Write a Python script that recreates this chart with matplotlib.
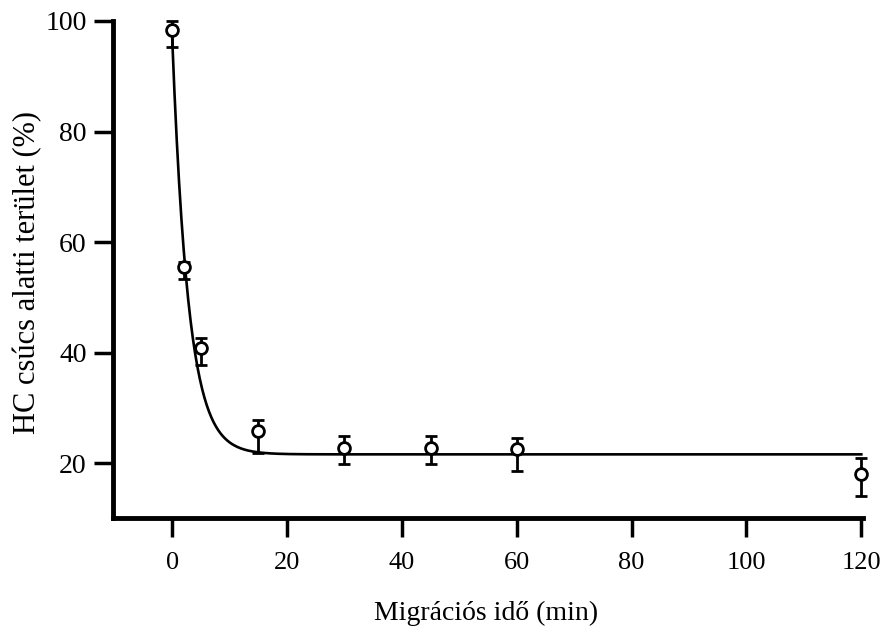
import numpy as np
import matplotlib
matplotlib.use("Agg")
import matplotlib.pyplot as plt

plt.rcParams['font.family'] = ['Liberation Serif', 'DejaVu Serif']

# mért pontok (idő, átlag, hibasáv alsó/felső vége)
time_min = [0, 2, 5, 15, 30, 45, 60, 120]
area_mean = [98.4, 55.5, 40.9, 25.8, 22.8, 22.8, 22.5, 18.1]
area_upper = [99.9, 56.4, 42.7, 27.8, 24.9, 24.9, 24.5, 21.0]
area_lower = [95.3, 53.4, 37.7, 21.9, 19.8, 19.8, 18.6, 14.0]

# illesztett egyfázisú lecsengés paraméterei
fit_y0 = 97.0
fit_plateau = 21.6
fit_k = 0.355

mean = np.array(area_mean)
err = [mean - np.array(area_lower), np.array(area_upper) - mean]

fig = plt.figure(figsize=(8.83, 6.29), dpi=100)
ax = fig.add_axes([0.128, 0.1757, 0.8494, 0.791])

xs = np.linspace(0, max(time_min), 600)
ys = fit_plateau + (fit_y0 - fit_plateau) * np.exp(-fit_k * xs)
ax.plot(xs, ys, color='black', lw=1.9, zorder=2, clip_on=False)

ax.errorbar(time_min, area_mean, yerr=err, fmt='o', ms=8.5, mfc='white',
            mec='black', mew=2.0, ecolor='black', elinewidth=2.0,
            capsize=4.3, capthick=2.4, zorder=3, clip_on=False)

ax.set_xlim(-10.3, 120.3)
ax.set_ylim(10, 100)
ax.set_xticks(range(0, 121, 20))
ax.set_yticks(range(20, 101, 20))

for side in ['top', 'right']:
    ax.spines[side].set_visible(False)
for side in ['left', 'bottom']:
    ax.spines[side].set_linewidth(3.5)
    ax.spines[side].set_capstyle('projecting')

ax.tick_params(axis='both', direction='out', width=2.5, length=14, color='black')
ax.tick_params(axis='x', pad=10, labelsize=19)
ax.tick_params(axis='y', pad=5, labelsize=20)

fig.text(486 / 883, 1 - 613 / 629, 'Migrációs idő (min)', ha='center', va='center',
         fontsize=20)
fig.text(27.5 / 883, 1 - 272.5 / 629, 'HC csúcs alatti terület (%)', ha='center',
         va='center', rotation=90, fontsize=22)

fig.savefig('out.png', dpi=100)
